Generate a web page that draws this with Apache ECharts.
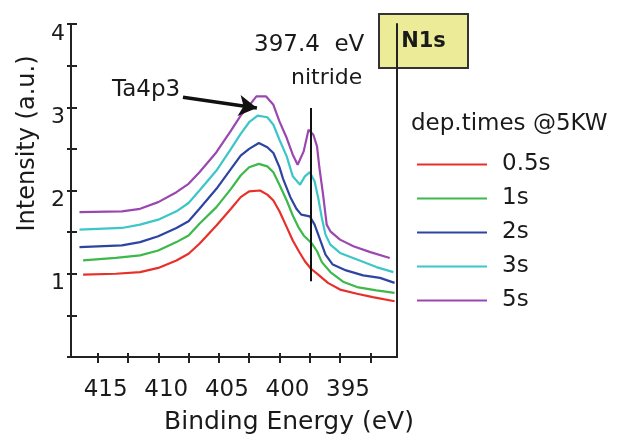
<!DOCTYPE html>
<html>
<head>
<meta charset="utf-8">
<script src="https://cdn.jsdelivr.net/npm/echarts@6/dist/echarts.min.js"></script>
<style>
html,body{margin:0;padding:0;background:#fff;}
#chart{width:627px;height:434px;}
</style>
</head>
<body>
<div id="chart"></div>
<script>
// ---- data ----
const seriesNames = ['0.5s', '1s', '2s', '3s', '5s'];
const seriesColors = ['#e8302a', '#3db84a', '#2d45a0', '#3cc6c8', '#9a48b0'];

const energy05 = [416.2, 413.5, 411.5, 410.0, 408.5, 407.5, 406.6, 405.2, 404.0, 403.2, 402.5, 401.6, 401.0, 400.5, 400.0, 399.4, 398.9, 398.4, 397.9, 397.4, 396.8, 396.0, 395.0, 393.6, 392.3, 390.5];
const intens05 = [0.99, 1.00, 1.02, 1.07, 1.16, 1.24, 1.36, 1.58, 1.78, 1.92, 1.99, 2.00, 1.95, 1.88, 1.75, 1.56, 1.40, 1.27, 1.15, 1.06, 0.99, 0.89, 0.81, 0.76, 0.72, 0.67];

const energy1 = [416.2, 413.5, 411.5, 410.0, 408.5, 407.5, 406.6, 405.2, 404.0, 403.2, 402.5, 401.7, 401.0, 400.5, 400.0, 399.4, 398.9, 398.4, 398.0, 397.3, 396.9, 396.5, 395.8, 394.7, 393.6, 392.0, 390.5];
const intens1 = [1.16, 1.19, 1.22, 1.28, 1.38, 1.46, 1.60, 1.80, 2.02, 2.18, 2.28, 2.32, 2.29, 2.22, 2.07, 1.88, 1.70, 1.55, 1.46, 1.36, 1.27, 1.14, 1.02, 0.90, 0.84, 0.80, 0.77];

const energy2 = [416.5, 413.0, 411.5, 410.0, 408.5, 407.5, 406.6, 405.2, 404.0, 403.2, 402.5, 401.7, 401.0, 400.5, 400.0, 399.7, 399.1, 398.6, 398.2, 397.5, 397.1, 396.7, 396.2, 395.6, 394.5, 393.1, 391.7, 390.5];
const intens2 = [1.32, 1.34, 1.38, 1.45, 1.55, 1.63, 1.78, 2.02, 2.26, 2.42, 2.50, 2.57, 2.52, 2.45, 2.28, 2.14, 1.92, 1.78, 1.71, 1.69, 1.59, 1.43, 1.23, 1.11, 1.04, 0.98, 0.95, 0.89];

const energy3 = [416.5, 413.0, 411.5, 410.0, 408.5, 407.5, 406.6, 405.2, 404.0, 403.2, 402.5, 401.8, 401.0, 400.5, 400.0, 399.4, 398.9, 398.3, 397.9, 397.5, 397.1, 396.8, 396.5, 396.2, 395.8, 395.0, 393.6, 392.0, 390.6];
const intens3 = [1.53, 1.55, 1.59, 1.65, 1.75, 1.85, 2.00, 2.24, 2.50, 2.68, 2.82, 2.90, 2.88, 2.79, 2.61, 2.41, 2.17, 2.07, 2.17, 2.22, 2.11, 1.91, 1.67, 1.47, 1.35, 1.25, 1.17, 1.08, 1.02];

const energy5 = [416.5, 413.0, 411.5, 410.0, 408.5, 407.5, 406.6, 405.2, 404.0, 403.2, 402.5, 401.9, 401.1, 400.5, 400.0, 399.4, 398.9, 398.5, 398.0, 397.6, 397.2, 396.9, 396.7, 396.4, 396.1, 395.8, 395.0, 393.9, 392.5, 390.9];
const intens5 = [1.74, 1.75, 1.78, 1.86, 1.98, 2.08, 2.22, 2.46, 2.72, 2.90, 3.02, 3.13, 3.13, 3.03, 2.83, 2.63, 2.43, 2.31, 2.47, 2.73, 2.67, 2.53, 2.27, 1.95, 1.59, 1.51, 1.41, 1.33, 1.26, 1.19];

const xTickValues = [392.5, 395, 397.5, 400, 402.5, 405, 407.5, 410, 412.5, 415];
const xLabelValues = [395, 400, 405, 410, 415];
const xRange = [390.3, 417.2];
const yRange = [0, 4];

// annotations (data coordinates)
const nitrideEnergy = 397.4;
const nitrideLine = [0.91, 2.99];
const arrowFrom = [407.96, 3.12];
const arrowTo = [401.86, 2.99];

// ---- chart ----
const energies = [energy05, energy1, energy2, energy3, energy5];
const intens = [intens05, intens1, intens2, intens3, intens5];
const FONT = '"DejaVu Sans", sans-serif';
const TXT = '#1a1a1a';

const series = seriesNames.map((name, i) => ({
  name,
  type: 'line',
  xAxisIndex: 0,
  yAxisIndex: 0,
  data: energies[i].map((e, k) => [e, intens[i][k]]),
  showSymbol: false,
  symbol: 'none',
  lineStyle: { color: seriesColors[i], width: 2.2 },
  itemStyle: { color: seriesColors[i] },
  z: 3
}));
series[0].markLine = {
  silent: true,
  symbol: ['none', 'none'],
  label: { show: false },
  lineStyle: { color: '#111', width: 2, type: 'solid' },
  data: [[{ coord: [nitrideEnergy, nitrideLine[0]] }, { coord: [nitrideEnergy, nitrideLine[1]] }]],
  animation: false
};
series[4].markLine = {
  silent: true,
  symbol: ['none', 'arrow'],
  symbolSize: [16, 18],
  label: { show: false },
  lineStyle: { color: '#111', width: 3.5, type: 'solid' },
  data: [[{ coord: arrowFrom }, { coord: arrowTo }]],
  animation: false
};

const axisLineStyle = { color: '#222', width: 2 };

const option = {
  animation: false,
  backgroundColor: '#fff',
  textStyle: { fontFamily: FONT },
  grid: { left: 71, right: 230, top: 24, bottom: 77, outerBoundsMode: 'none' },
  title: {
    text: 'dep.times @5KW',
    left: 411, top: 113, padding: 0,
    textStyle: { fontFamily: FONT, fontSize: 23, fontWeight: 'normal', color: TXT }
  },
  legend: {
    orient: 'vertical',
    left: 412, top: 147,
    icon: 'rect',
    itemWidth: 70, itemHeight: 2,
    itemGap: 9,
    data: seriesNames,
    textStyle: { fontFamily: FONT, fontSize: 23, color: TXT, lineHeight: 25, padding: [0, 0, 0, 10] }
  },
  xAxis: [
    {
      type: 'value', inverse: true, min: xRange[0], max: xRange[1], position: 'bottom',
      name: 'Binding Energy (eV)', nameLocation: 'middle', nameGap: 53,
      nameTextStyle: { fontFamily: FONT, fontSize: 25, color: TXT, padding: [0, 0, 0, 110] },
      axisLine: { show: true, lineStyle: axisLineStyle },
      axisTick: { show: true, inside: false, length: 6, lineStyle: axisLineStyle, customValues: xTickValues },
      axisLabel: { show: true, margin: 22, fontFamily: FONT, fontSize: 23, color: TXT, customValues: xLabelValues, padding: [0, 0, 0, 16] },
      splitLine: { show: false }
    },
    {
      type: 'value', inverse: true, min: xRange[0], max: xRange[1], position: 'bottom',
      axisLine: { show: false },
      axisTick: { show: true, inside: true, length: 4, lineStyle: axisLineStyle, customValues: xTickValues },
      axisLabel: { show: false },
      splitLine: { show: false }
    },
    {
      type: 'value', inverse: true, min: xRange[0], max: xRange[1], position: 'top',
      axisLine: { show: true, lineStyle: axisLineStyle },
      axisTick: { show: false }, axisLabel: { show: false }, splitLine: { show: false }
    }
  ],
  yAxis: [
    {
      type: 'value', min: yRange[0], max: yRange[1], interval: 0.5, position: 'left',
      name: 'Intensity (a.u.)', nameLocation: 'middle', nameGap: 27,
      nameTextStyle: { fontFamily: FONT, fontSize: 24, color: TXT, padding: [0, 0, 0, 94] },
      axisLine: { show: true, lineStyle: axisLineStyle },
      axisTick: { show: true, inside: false, length: 4, lineStyle: axisLineStyle },
      axisLabel: {
        show: true, margin: 6, fontFamily: FONT, fontSize: 22, color: TXT,
        verticalAlign: 'top', lineHeight: 20,
        formatter: v => (v > 0 && Math.abs(v % 1) < 1e-9) ? String(v) : ''
      },
      splitLine: { show: false }
    },
    {
      type: 'value', min: yRange[0], max: yRange[1], interval: 0.5, position: 'left',
      axisLine: { show: false },
      axisTick: { show: true, inside: true, length: 6, lineStyle: axisLineStyle },
      axisLabel: { show: false }, splitLine: { show: false }
    },
    {
      type: 'value', min: yRange[0], max: yRange[1], position: 'right',
      axisLine: { show: true, lineStyle: axisLineStyle },
      axisTick: { show: false }, axisLabel: { show: false }, splitLine: { show: false }
    }
  ],
  graphic: [
    { type: 'text', left: 254, top: 34, z: 10,
      style: { text: '397.4  eV', font: '23px ' + FONT, fill: TXT } },
    { type: 'text', left: 291, top: 67, z: 10,
      style: { text: 'nitride', font: '22px ' + FONT, fill: TXT } },
    { type: 'text', left: 112, top: 79, z: 10,
      style: { text: 'Ta4p3', font: '23px ' + FONT, fill: TXT } },
    { type: 'group', left: 378, top: 13, z: 20, children: [
      { type: 'rect', shape: { x: 0, y: 0, width: 89, height: 54 },
        style: { fill: '#ecec98', stroke: '#333', lineWidth: 2 } },
      { type: 'text', x: 44.5, y: 28,
        style: { text: 'N1s', font: 'bold 21px ' + FONT, fill: TXT, align: 'center', verticalAlign: 'middle' } }
    ] }
  ],
  series
};

const chart = echarts.init(document.getElementById('chart'), null, { renderer: 'canvas' });
chart.setOption(option);
</script>
</body>
</html>
